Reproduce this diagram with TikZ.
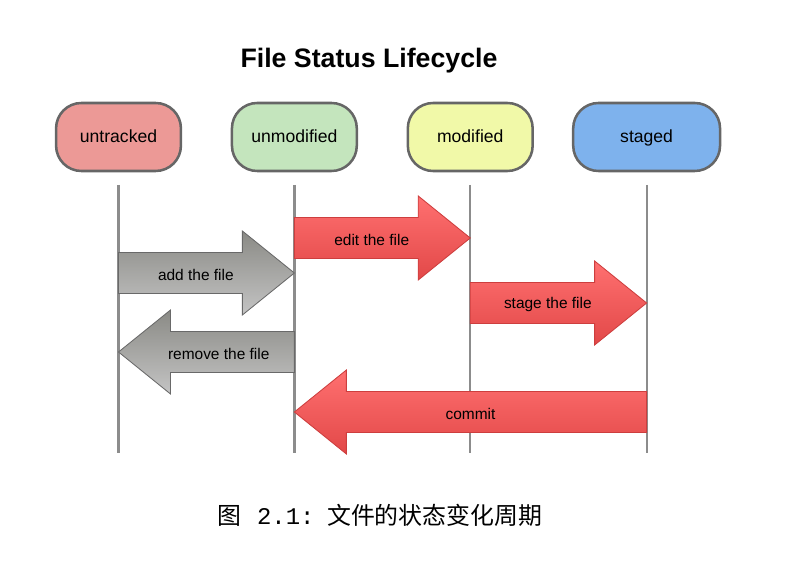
\documentclass[tikz,border=0pt]{standalone}
\usepackage{fontspec}
\setmainfont{Liberation Sans}
\newfontfamily\cjkfont{Noto Sans CJK SC}
\newfontfamily\capmono{Liberation Mono}
\usetikzlibrary{positioning,calc}

\definecolor{untrackedfill}{RGB}{236,153,150}
\definecolor{unmodifiedfill}{RGB}{196,229,189}
\definecolor{modifiedfill}{RGB}{241,249,168}
\definecolor{stagedfill}{RGB}{126,178,237}
\definecolor{statedraw}{RGB}{102,102,102}
\definecolor{linegray}{RGB}{140,140,140}
\definecolor{redtop}{RGB}{255,112,112}
\definecolor{redbottom}{RGB}{226,72,72}
\definecolor{reddraw}{RGB}{205,62,62}
\definecolor{graytop}{RGB}{138,138,133}
\definecolor{graybottom}{RGB}{196,196,196}
\definecolor{graydraw}{RGB}{105,105,105}

\begin{document}
\begin{tikzpicture}[
    x=0.025cm, y=-0.025cm,
    state/.style={rectangle, draw=statedraw, line width=1.8pt, rounded corners=18pt, minimum width=3.12cm, minimum height=1.7cm, text height=1.05em, text depth=0.2em, font=\fontsize{12.5}{15}\selectfont},
    lifeline/.style={draw=linegray, line width=1.6pt},
    blockarrow/.style={line width=0.6pt, to path={
        ($(\tikztostart)!0.5125cm!90:(\tikztotarget)$)
        -- ($(\tikztotarget)!1.3cm!(\tikztostart)!0.5125cm!90:(\tikztotarget)$)
        -- ($(\tikztotarget)!1.3cm!(\tikztostart)!1.05cm!90:(\tikztotarget)$)
        -- (\tikztotarget)
        -- ($(\tikztotarget)!1.3cm!(\tikztostart)!1.05cm!-90:(\tikztotarget)$)
        -- ($(\tikztotarget)!1.3cm!(\tikztostart)!0.5125cm!-90:(\tikztotarget)$)
        -- ($(\tikztostart)!0.5125cm!-90:(\tikztotarget)$)
        -- cycle}},
    redarrow/.style={blockarrow, draw=reddraw, top color=redtop, bottom color=redbottom},
    grayarrow/.style={blockarrow, draw=graydraw, top color=graytop, bottom color=graybottom},
    lbl/.style={font=\fontsize{11}{13}\selectfont}
]
\useasboundingbox (0,0) rectangle (802,569);

\node[anchor=base, font=\fontsize{19}{23}\selectfont\bfseries] (title) at (369,68) {File Status Lifecycle};

% states
\node[state, fill=untrackedfill] (untracked) at (118.5,137) {untracked};
\node[state, fill=unmodifiedfill, right=1.2125cm of untracked] (unmodified) {unmodified};
\node[state, fill=modifiedfill, right=1.2125cm of unmodified] (modified) {modified};
\node[state, fill=stagedfill, minimum width=3.67cm, right=0.95cm of modified] (staged) {staged};

% lifelines
\foreach \s in {untracked, unmodified, modified, staged} {
    \path (\s) ++(0,48) coordinate (\s-top) ++(0,268) coordinate (\s-bot);
    \draw[lifeline] (\s-top) -- (\s-bot);
}

% arrow ends
\path (unmodified) ++(0,101) coordinate (edit-s);
\path (modified) ++(0,101) coordinate (edit-t);
\path (untracked) ++(0,136) coordinate (add-s);
\path (unmodified) ++(0,136) coordinate (add-t);
\path (modified) ++(0,166) coordinate (stage-s);
\path (staged) ++(0,166) coordinate (stage-t);
\path (unmodified) ++(0,215) coordinate (remove-s);
\path (untracked) ++(0,215) coordinate (remove-t);
\path (staged) ++(0,275) coordinate (commit-s);
\path (unmodified) ++(0,275) coordinate (commit-t);

\draw[redarrow] (edit-s) to (edit-t);
\draw[grayarrow] (add-s) to (add-t);
\draw[redarrow] (stage-s) to (stage-t);
\draw[grayarrow] (remove-s) to (remove-t);
\draw[redarrow] (commit-s) to (commit-t);

\node[lbl] (edit) at ($(edit-s)!0.44!(edit-t)+(0,1.5)$) {edit the file};
\node[lbl] (add) at ($(add-s)!0.44!(add-t)+(0,1.5)$) {add the file};
\node[lbl] (stage) at ($(stage-s)!0.44!(stage-t)+(0,1.5)$) {stage the file};
\node[lbl] (remove) at ($(remove-s)!0.43!(remove-t)+(0,1.5)$) {remove the file};
\node[lbl] (commit) at ($(commit-s)!0.5!(commit-t)+(0,1.5)$) {commit};

% caption
\node[font=\fontsize{17}{20}\selectfont] (caption) at (380,515)
    {\cjkfont 图\hspace{11pt}{\capmono 2.1:}\hspace{9pt}文件的状态变化周期};
\end{tikzpicture}
\end{document}
